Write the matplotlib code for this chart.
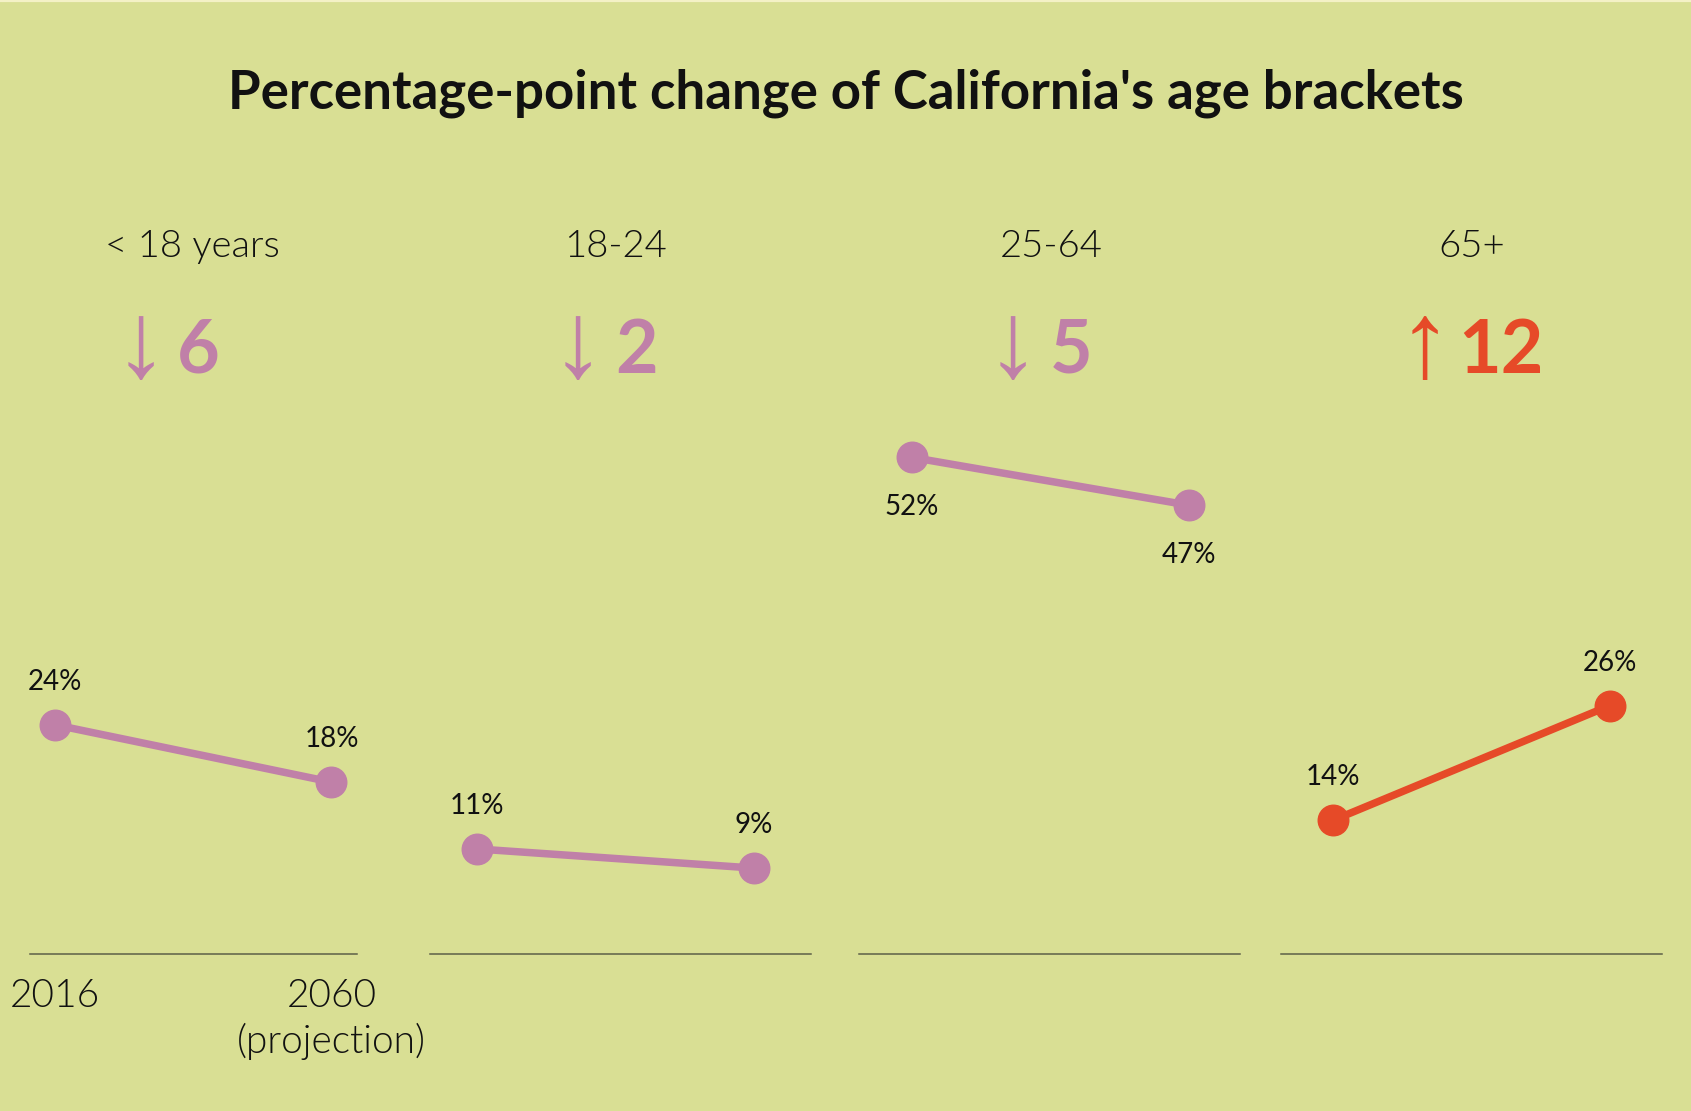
import matplotlib
matplotlib.use("Agg")
import matplotlib.pyplot as plt
from matplotlib.lines import Line2D

W, H = 1691, 1111
BG = "#d9df94"
PINK = "#c080a8"
RED = "#e64a28"
BASE = "#5c6048"
TEXT = "#111111"

# data
brackets = ["< 18 years", "18-24", "25-64", "65+"]
years = ["2016", "2060\n(projection)"]
share_2016 = [24, 11, 52, 14]
share_2060 = [18, 9, 47, 26]

# layout, in pixels of the final image
panel_px = [(30, 357), (430, 811), (859, 1240), (1281, 1662)]
first_px = [55, 477, 912, 1333]
step_px = 276.5
px_per_pt = 9.55
baseline_px = 954
header_x = [192, 615, 1051, 1472]
arrow_x = [141, 578, 1013, 1425]
number_x = [177, 615, 1050, 1458]
label_below = [False, False, True, False]

plt.rcParams["font.family"] = ["Lato", "DejaVu Sans"]


def fx(px):
    return px / W


def fy(py):
    return 1 - py / H


fig = plt.figure(figsize=(W / 100, H / 100), dpi=100, facecolor=BG)
fig.add_artist(Line2D([0, 1], [fy(1), fy(1)], color="#f4f1c6", lw=1.6))

fig.text(fx(846), fy(109), "Percentage-point change of California's age brackets",
         ha="center", va="baseline", fontsize=38, fontweight="bold", color=TEXT)

ymax = 60
for i, name in enumerate(brackets):
    left, right = panel_px[i]
    ax = fig.add_axes([fx(left), fy(baseline_px), (right - left) / W, ymax * px_per_pt / H])
    ax.set_xlim((left - first_px[i]) / step_px, (right - first_px[i]) / step_px)
    ax.set_ylim(0, ymax)
    ax.patch.set_visible(False)
    for s in ["top", "left", "right"]:
        ax.spines[s].set_visible(False)
    ax.spines["bottom"].set_color(BASE)
    ax.spines["bottom"].set_linewidth(1.1)
    ax.set_yticks([])
    if i == 0:
        ax.set_xticks([0, 1], years)
        ax.tick_params(axis="x", length=0, pad=17, labelsize=28, labelcolor=TEXT)
        for lab in ax.get_xticklabels():
            lab.set_fontweight(300)
            lab.set_linespacing(1.3)
    else:
        ax.set_xticks([])

    vals = [share_2016[i], share_2060[i]]
    change = vals[1] - vals[0]
    color = RED if change > 0 else PINK
    ax.plot([0, 1], vals, color=color, lw=5.4, marker="o", ms=22,
            solid_capstyle="butt", clip_on=False)
    for x, v in zip([0, 1], vals):
        off = -58 if label_below[i] else 35
        ax.annotate(f"{v}%", (x, v), xytext=(0, off * 0.72), textcoords="offset points",
                    ha="center", va="baseline", fontsize=20, color=TEXT)

    fig.text(fx(header_x[i]), fy(257), name, ha="center", va="baseline",
             fontsize=27.5, fontweight=300, color=TEXT)
    fig.text(fx(arrow_x[i]), fy(377), "↑" if change > 0 else "↓", ha="center", va="baseline",
             fontsize=78, family=["Liberation Sans", "DejaVu Sans"], color=color)
    fig.text(fx(number_x[i]), fy(373), f"{abs(change)}", ha="left", va="baseline",
             fontsize=53, fontweight="bold", color=color)

fig.savefig("out.png", dpi=100, facecolor=BG)
